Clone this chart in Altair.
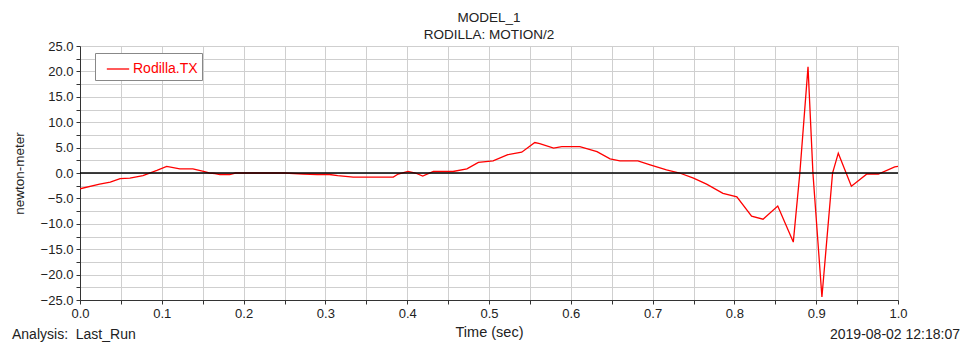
import altair as alt
import pandas as pd

time_s = [0.0, 0.024, 0.037, 0.049, 0.061, 0.077, 0.094, 0.106, 0.122, 0.138, 0.151, 0.158,
          0.165, 0.171, 0.183, 0.19, 0.2, 0.25, 0.273, 0.29, 0.305, 0.315, 0.334, 0.36, 0.383,
          0.389, 0.401, 0.41, 0.419, 0.432, 0.456, 0.473, 0.487, 0.505, 0.523, 0.54, 0.556,
          0.562, 0.579, 0.589, 0.611, 0.632, 0.648, 0.66, 0.682, 0.697, 0.717, 0.733, 0.75,
          0.766, 0.786, 0.803, 0.821, 0.835, 0.853, 0.872, 0.88, 0.89, 0.896, 0.907, 0.92,
          0.927, 0.943, 0.962, 0.976, 0.996, 1.0]
torque = [-3.1, -2.2, -1.8, -1.1, -1.0, -0.5, 0.5, 1.3, 0.8, 0.8, 0.3, 0.0,
          -0.1, -0.3, -0.3, 0.0, 0.0, 0.0, -0.2, -0.3, -0.3, -0.5, -0.8, -0.8, -0.8,
          -0.2, 0.3, 0.0, -0.6, 0.3, 0.3, 0.8, 2.1, 2.4, 3.6, 4.1, 6.0,
          5.8, 4.9, 5.2, 5.2, 4.2, 2.8, 2.4, 2.4, 1.6, 0.6, 0.0, -1.0,
          -2.2, -4.0, -4.7, -8.5, -9.1, -6.5, -13.6, 0.0, 20.9, 0.0, -24.4, 0.0,
          3.9, -2.6, -0.2, -0.2, 1.2, 1.3]
series_name = "Rodilla.TX"

x_ticks = [round(i * 0.05, 2) for i in range(21)]
y_ticks = [round(-25 + i * 2.5, 1) for i in range(21)]

df = pd.DataFrame({"t": time_s, "v": torque, "s": [series_name] * len(time_s)})

FONT = "Liberation Sans"

xscale = alt.Scale(domain=[0, 1], nice=False, zero=False)
yscale = alt.Scale(domain=[-25, 25], nice=False, zero=False)

yaxis = alt.Axis(values=y_ticks,
                 labelExpr="abs(datum.value/5 - round(datum.value/5)) < 0.001 ? format(datum.value, '.1f') : ''",
                 gridColor="#cfcfcf", gridWidth=1, domainColor="#333", tickColor="#333",
                 tickSize=4, labelPadding=3, labelFontSize=13, labelColor="#222",
                 labelFont=FONT, titleFont=FONT, titleFontSize=13.5, titleFontWeight="normal",
                 titleColor="#222", titlePadding=14, labelFlush=False, labelOverlap=False)

line = alt.Chart(df).mark_line(strokeWidth=1.3, clip=True).encode(
    x=alt.X("t:Q", scale=xscale, title="Time (sec)",
            axis=alt.Axis(values=x_ticks,
                          labelExpr="abs(datum.value*10 - round(datum.value*10)) < 0.001 ? format(datum.value, '.1f') : ''",
                          gridColor="#cfcfcf", gridWidth=1, domainColor="#333", tickColor="#333",
                          tickSize=4, labelPadding=3, labelFontSize=13, labelColor="#222",
                          labelFont=FONT, titleFont=FONT, titleFontSize=14.5, titleFontWeight="normal",
                          titleColor="#222", titlePadding=5, labelFlush=False, labelOverlap=False)),
    y=alt.Y("v:Q", scale=yscale, title="newton-meter", axis=yaxis),
    color=alt.Color("s:N", scale=alt.Scale(range=["#ff0000"]),
                    legend=alt.Legend(title=None, orient="none", legendX=15, legendY=7,
                                      symbolType="stroke", symbolSize=500, symbolStrokeWidth=1.3,
                                      labelFontSize=14, labelFont=FONT, labelColor="#ff0000",
                                      fillColor="white", strokeColor="#888", padding=4,
                                      symbolOffset=7, labelOffset=3)),
)

zero = alt.Chart(pd.DataFrame({"v": [0]})).mark_rule(color="black", strokeWidth=1.3).encode(
    y=alt.Y("v:Q", scale=yscale, title="newton-meter", axis=yaxis)
)

left_txt = alt.Chart(pd.DataFrame({"txt": ["Analysis:\u00a0\u00a0Last_Run"]})).mark_text(
    align="left", baseline="middle", fontSize=14, font=FONT, color="#222"
).encode(text="txt:N", x=alt.value(-68), y=alt.value(289))

right_txt = alt.Chart(pd.DataFrame({"txt": ["2019-08-02 12:18:07"]})).mark_text(
    align="right", baseline="middle", fontSize=14, font=FONT, color="#222"
).encode(text="txt:N", x=alt.value(880), y=alt.value(289))

chart = alt.layer(line, zero, left_txt, right_txt).properties(
    width=818, height=254,
    title=alt.TitleParams(["MODEL_1", "RODILLA: MOTION/2"], fontSize=13.5, font=FONT,
                          fontWeight="normal", color="#222", anchor="middle", offset=-1,
                          lineHeight=17),
    autosize=alt.AutoSizeParams(type="none"),
    padding={"left": 72, "top": 38, "right": 62, "bottom": 43},
).configure_view(stroke="#444", strokeWidth=1).configure_axis(
    labelOverlap=False
).configure(background="white")

chart.save("out.html", embed_options={"renderer": "svg", "actions": False})
